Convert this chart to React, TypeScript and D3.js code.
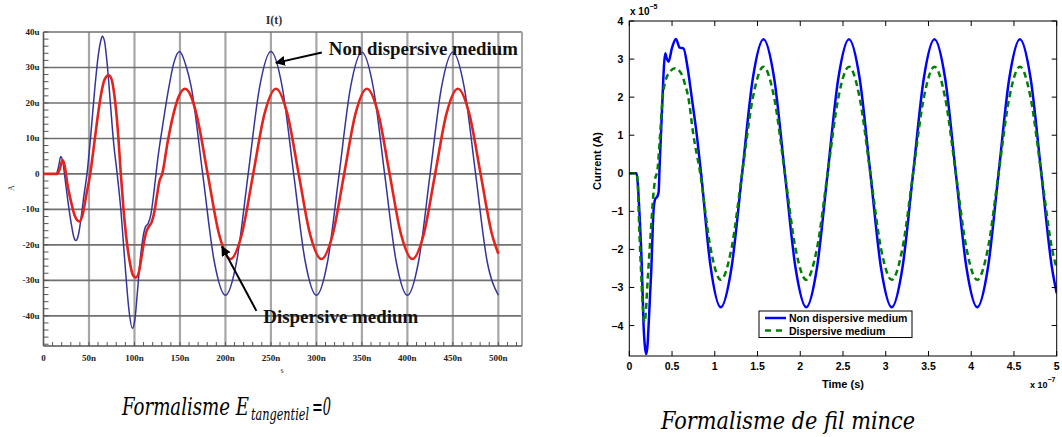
import React from "react";
import * as d3 from "d3";

// ---------- Left panel: I(t), time in ns, current in uA ----------
const leftXTicks = [0, 50, 100, 150, 200, 250, 300, 350, 400, 450, 500];
const leftXTickLabels = ["0", "50n", "100n", "150n", "200n", "250n", "300n", "350n", "400n", "450n", "500n"];
const leftYTicks = [40, 30, 20, 10, 0, -10, -20, -30, -40];
const leftYTickLabels = ["40u", "30u", "20u", "10u", "0", "-10u", "-20u", "-30u", "-40u"];

const leftNonDispersive: [number, number][] = [
  [0, 0], [14, 0], [16.5, 2], [19, 4.9], [21.5, 3], [24, -2], [27, -8], [30.5, -14], [33, -17.5],
  [35.6, -18.8], [38.5, -17], [41.5, -12], [44.5, -6], [47.8, 0], [52, 11], [56, 23], [60, 33],
  [62.5, 37], [64.6, 38.8], [67, 37.5], [70, 31], [73.5, 20], [77, 9], [81, 0], [85, -10], [88, -20],
  [91, -30], [94, -38.5], [97.7, -43.5], [100.5, -41], [103, -34], [106, -25], [109, -18.5], [112, -15],
  [115, -14], [118, -11.5], [120.5, -7], [123, -1.5], [126, 5], [130, 12], [137.5, 24], [143.5, 31.5],
  [149.6, 34.5], [156, 31], [162.5, 24.4], [175, 0], [187.5, -24.4], [200, -34.2], [212.5, -24.4],
  [225, 0], [237.5, 24.4], [250, 34.5], [262.5, 24.4], [275, 0], [287.5, -24.4], [300, -34.2],
  [312.5, -24.4], [325, 0], [337.5, 24.4], [350, 34.3], [362.5, 24.4], [375, 0], [387.5, -24.4],
  [400, -34.2], [412.5, -24.4], [425, 0], [437.5, 24.4], [450, 34.3], [462.5, 24.4], [475, 0],
  [487.5, -24.4], [500, -34.2],
];

const leftDispersive: [number, number][] = [
  [0, 0], [15, 0], [18, 1.5], [21, 3.9], [23.5, 2], [26, -2.5], [30, -7.5], [34, -11.5], [39.4, -13.4],
  [43, -11.5], [47, -6], [51.4, 0], [55, 7], [59, 15], [63, 22], [67, 26.5], [71.5, 27.8], [75, 26.5],
  [78, 22], [81.5, 13], [85, 0], [88, -10], [91.5, -19], [95, -25], [98, -28.3], [101.5, -29.2],
  [105, -27.5], [108, -23], [111, -18.5], [113.5, -16], [116, -14.8], [119, -13.5], [122, -10.5],
  [124.5, -6.5], [127.5, -2], [130.5, 0], [136.5, 9], [142.5, 16.5], [149, 22], [155.5, 24], [162, 22],
  [168, 17], [180.5, 0], [193, -17], [205.5, -24], [218, -17], [230.5, 0], [243, 17], [255.5, 24],
  [268, 17], [280.5, 0], [293, -17], [305.5, -24], [318, -17], [330.5, 0], [343, 17], [355.5, 24],
  [368, 17], [380.5, 0], [393, -17], [405.5, -24], [418, -17], [430.5, 0], [443, 17], [455.5, 24],
  [468, 17], [480.5, 0], [493, -17], [500, -22.5],
];

const leftAnnotations = [
  { text: "Non dispersive medium", at: [313.7, 33.5], from: [306, 34.2], to: [255.5, 31.3], width: 189 },
  { text: "Dispersive medium", at: [241.6, -42], from: [234, -38.6], to: [196.2, -20.5], width: 155 },
];

// ---------- Right panel: time in 1e-7 s, current in 1e-5 A ----------
const rightXTicks = [0, 0.5, 1, 1.5, 2, 2.5, 3, 3.5, 4, 4.5, 5];
const rightXTickLabels = ["0", "0.5", "1", "1.5", "2", "2.5", "3", "3.5", "4", "4.5", "5"];
const rightYTicks = [4, 3, 2, 1, 0, -1, -2, -3, -4];
const rightYTickLabels = ["4", "3", "2", "1", "0", "\u22121", "\u22122", "\u22123", "\u22124"];

const rightNonDispersive: [number, number][] = [
  [0, 0], [0.085, 0], [0.1, -0.3], [0.117, -0.97], [0.148, -2.55], [0.167, -4], [0.185, -4.6],
  [0.199, -4.75], [0.212, -4.55], [0.226, -4], [0.257, -2.55], [0.284, -0.97], [0.304, -0.67],
  [0.325, -0.62], [0.343, -0.5], [0.355, 0.2], [0.37, 1.0], [0.389, 2.0], [0.405, 2.8], [0.42, 3.15],
  [0.44, 3.0], [0.459, 2.93], [0.5, 3.3], [0.545, 3.53], [0.59, 3.3], [0.634, 3.28], [0.68, 2.8],
  [0.73, 2.0], [0.79, 1.0], [0.84, 0], [0.945, -2.35], [1.07, -3.52], [1.195, -2.49], [1.32, 0],
  [1.445, 2.49], [1.57, 3.52], [1.695, 2.49], [1.82, 0], [1.945, -2.49], [2.07, -3.52], [2.195, -2.49],
  [2.32, 0], [2.445, 2.49], [2.57, 3.52], [2.695, 2.49], [2.82, 0], [2.945, -2.49], [3.07, -3.52],
  [3.195, -2.49], [3.32, 0], [3.445, 2.49], [3.57, 3.52], [3.695, 2.49], [3.82, 0], [3.945, -2.49],
  [4.07, -3.52], [4.195, -2.49], [4.32, 0], [4.445, 2.49], [4.57, 3.52], [4.695, 2.49], [4.82, 0],
  [4.945, -2.49], [5, -3.15],
];

const rightDispersive: [number, number][] = [
  [0, 0], [0.085, 0], [0.1, -0.3], [0.109, -0.97], [0.137, -2.55], [0.158, -3.5], [0.179, -3.91],
  [0.195, -3.6], [0.21, -3.0], [0.25, -1.6], [0.28, -0.6], [0.3, -0.18], [0.33, 0.1], [0.36, 1.0],
  [0.39, 2.0], [0.42, 2.4], [0.47, 2.65], [0.537, 2.76], [0.6, 2.65], [0.65, 2.35], [0.69, 2.0],
  [0.75, 1.0], [0.83, 0], [0.945, -1.9], [1.07, -2.8], [1.195, -1.98], [1.32, 0], [1.445, 1.98],
  [1.57, 2.8], [1.695, 1.98], [1.82, 0], [1.945, -1.98], [2.07, -2.8], [2.195, -1.98], [2.32, 0],
  [2.445, 1.98], [2.57, 2.8], [2.695, 1.98], [2.82, 0], [2.945, -1.98], [3.07, -2.8], [3.195, -1.98],
  [3.32, 0], [3.445, 1.98], [3.57, 2.8], [3.695, 1.98], [3.82, 0], [3.945, -1.98], [4.07, -2.8],
  [4.195, -1.98], [4.32, 0], [4.445, 1.98], [4.57, 2.8], [4.695, 1.98], [4.82, 0], [4.945, -1.98],
  [5, -2.5],
];

const legendLabels = ["Non dispersive medium", "Dispersive medium"];
const captions = ["Formalisme E", "tangentiel", "=0", "Formalisme de fil mince"];

export default function App() {
  const xL = d3.scaleLinear().domain([0, 526]).range([43.5, 522]);
  const yL = d3.scaleLinear().domain([-48.5, 40]).range([346, 32]);
  const lineL = d3
    .line<[number, number]>()
    .x((d) => xL(d[0]))
    .y((d) => yL(d[1]))
    .curve(d3.curveMonotoneX);

  const xR = d3.scaleLinear().domain([0, 5]).range([629.3, 1056.7]);
  const yR = d3.scaleLinear().domain([-4.8, 4]).range([356, 21]);
  const lineR = d3
    .line<[number, number]>()
    .x((d) => xR(d[0]))
    .y((d) => yR(d[1]))
    .curve(d3.curveMonotoneX);

  const leftMinorY = d3.range(-48, 40.01, 2);
  const leftMinorX = d3.range(0, 521, 10);
  const serif = "'Liberation Serif', 'Times New Roman', serif";
  const capFont = "'DejaVu Serif', 'Liberation Serif', serif";
  const sans = "'Liberation Sans', Arial, Helvetica, sans-serif";

  const [l0, l1] = xL.range();
  const [b0, t0] = yL.range();
  const [r0, r1] = xR.range();
  const [rb, rt] = yR.range();

  return (
    <div style={{ position: "absolute", left: 0, top: 0 }}>
      <svg width={1062} height={437} style={{ display: "block", background: "#fff" }}>
        <defs>
          <clipPath id="clipL">
            <rect x={l0} y={t0} width={l1 - l0} height={b0 - t0} />
          </clipPath>
          <clipPath id="clipR">
            <rect x={r0} y={rt} width={r1 - r0} height={rb - rt} />
          </clipPath>
          <marker id="arrowHead" viewBox="0 0 10 10" refX="9" refY="5" markerWidth="5" markerHeight="5" orient="auto">
            <path d="M0,0 L10,5 L0,10 z" fill="#000" />
          </marker>
        </defs>

        {/* ---------------- LEFT PANEL ---------------- */}
        <g>
          {leftXTicks.filter((t) => t > 0).map((t) => (
            <line key={"vg" + t} x1={xL(t)} x2={xL(t)} y1={t0} y2={b0} stroke="#a6a6a6" strokeWidth={2.2} />
          ))}
          {leftYTicks.map((v) => (
            <line key={"hg" + v} x1={l0} x2={l1} y1={yL(v)} y2={yL(v)} stroke="#707070" strokeWidth={1.6} />
          ))}
          <line x1={l1} x2={l1} y1={t0} y2={b0} stroke="#a6a6a6" strokeWidth={2} />
          <line x1={l0} x2={l1} y1={b0} y2={b0} stroke="#555" strokeWidth={1.6} />
          <line x1={l0} x2={l0} y1={t0} y2={b0} stroke="#555" strokeWidth={1.6} />
          {leftMinorY.map((v) => (
            <line key={"my" + v} x1={l0} x2={l0 + 5} y1={yL(v)} y2={yL(v)} stroke="#555" strokeWidth={1} />
          ))}
          {leftMinorX.map((t) => (
            <line key={"mx" + t} x1={xL(t)} x2={xL(t)} y1={b0} y2={b0 - 4} stroke="#555" strokeWidth={1} />
          ))}
          {leftYTicks.map((v, i) => (
            <text key={"yl" + v} x={l0 - 4} y={yL(v) + 3} textAnchor="end" fontFamily={serif} fontWeight="bold" fontSize={9} fill="#222">
              {leftYTickLabels[i]}
            </text>
          ))}
          {leftXTicks.map((t, i) => (
            <text key={"xl" + t} x={xL(t)} y={361} textAnchor="middle" fontFamily={serif} fontWeight="bold" fontSize={9} fill="#222">
              {leftXTickLabels[i]}
            </text>
          ))}
          <g clipPath="url(#clipL)">
            <path d={lineL(leftNonDispersive) || ""} fill="none" stroke="#34349c" strokeWidth={1.5} />
            <path d={lineL(leftDispersive) || ""} fill="none" stroke="#e5231c" strokeWidth={2.6} />
          </g>
          <text x={274} y={24} textAnchor="middle" fontFamily={serif} fontWeight="bold" fontSize={12} fill="#333">I(t)</text>
          <text x={0} y={0} transform="translate(14,188) rotate(-90)" textAnchor="middle" fontFamily={serif} fontSize={8} fill="#333">A</text>
          <text x={282} y={373} textAnchor="middle" fontFamily={serif} fontSize={8} fill="#333">s</text>
          {leftAnnotations.map((a) => (
            <g key={a.text}>
              <line x1={xL(a.from[0])} y1={yL(a.from[1])} x2={xL(a.to[0])} y2={yL(a.to[1])} stroke="#000" strokeWidth={2} markerEnd="url(#arrowHead)" />
              <text x={xL(a.at[0])} y={yL(a.at[1])} fontFamily={serif} fontWeight="bold" fontSize={19} fill="#111" textLength={a.width} lengthAdjust="spacingAndGlyphs">
                {a.text}
              </text>
            </g>
          ))}
        </g>

        {/* ---------------- RIGHT PANEL ---------------- */}
        <g>
          <g clipPath="url(#clipR)">
            <path d={lineR(rightNonDispersive) || ""} fill="none" stroke="#0000ff" strokeWidth={2.5} />
            <path d={lineR(rightDispersive) || ""} fill="none" stroke="#008000" strokeWidth={2.5} strokeDasharray="6 4" />
          </g>
          <rect x={r0} y={rt} width={r1 - r0} height={rb - rt} fill="none" stroke="#000" strokeWidth={1} />
          {rightXTicks.map((t, i) => (
            <g key={"rx" + t}>
              <line x1={xR(t)} x2={xR(t)} y1={rb} y2={rb - 5} stroke="#000" />
              <line x1={xR(t)} x2={xR(t)} y1={rt} y2={rt + 5} stroke="#000" />
              <text x={xR(t)} y={rb + 14} textAnchor="middle" fontFamily={sans} fontWeight="bold" fontSize={10.5} fill="#000">
                {rightXTickLabels[i]}
              </text>
            </g>
          ))}
          {rightYTicks.map((v, i) => (
            <g key={"ry" + v}>
              <line x1={r0} x2={r0 + 5} y1={yR(v)} y2={yR(v)} stroke="#000" />
              <line x1={r1} x2={r1 - 5} y1={yR(v)} y2={yR(v)} stroke="#000" />
              <text x={r0 - 6} y={yR(v) + 4} textAnchor="end" fontFamily={sans} fontWeight="bold" fontSize={10.5} fill="#000">
                {rightYTickLabels[i]}
              </text>
            </g>
          ))}
          <text x={630} y={15} fontFamily={sans} fontWeight="bold" fontSize={10} fill="#000">
            x 10<tspan dy={-6} fontSize={7}>{"\u22125"}</tspan>
          </text>
          <text x={1030} y={388} fontFamily={sans} fontWeight="bold" fontSize={9} fill="#000">
            x 10<tspan dy={-6} fontSize={7}>{"\u22127"}</tspan>
          </text>
          <text x={(r0 + r1) / 2} y={388} textAnchor="middle" fontFamily={sans} fontWeight="bold" fontSize={11} fill="#000">Time (s)</text>
          <text transform="translate(601,161) rotate(-90)" textAnchor="middle" fontFamily={sans} fontWeight="bold" fontSize={11} fill="#000">Current (A)</text>
          <g>
            <rect x={759} y={311} width={153} height={26.5} fill="#fff" stroke="#000" strokeWidth={1} />
            <line x1={765} x2={786} y1={318} y2={318} stroke="#0000ff" strokeWidth={2.5} />
            <line x1={765} x2={786} y1={330.5} y2={330.5} stroke="#008000" strokeWidth={2.5} strokeDasharray="6 5" />
            <text x={789} y={322} fontFamily={sans} fontWeight="bold" fontSize={10.5} fill="#000">{legendLabels[0]}</text>
            <text x={789} y={334.5} fontFamily={sans} fontWeight="bold" fontSize={10.5} fill="#000">{legendLabels[1]}</text>
          </g>
        </g>

        {/* ---------------- CAPTIONS ---------------- */}
        <g fontFamily={capFont} fontStyle="italic" fill="#000">
          <text y={415} fontSize={24}>
            <tspan x={122} textLength={127} lengthAdjust="spacingAndGlyphs">{captions[0]}</tspan>
            <tspan x={251} dy={5} fontSize={16} textLength={58} lengthAdjust="spacingAndGlyphs">{captions[1]}</tspan>
            <tspan x={312} dy={-5} textLength={19} lengthAdjust="spacingAndGlyphs">{captions[2]}</tspan>
          </text>
          <text x={661} y={429} fontSize={25} textLength={254} lengthAdjust="spacingAndGlyphs">{captions[3]}</text>
        </g>
      </svg>
    </div>
  );
}
